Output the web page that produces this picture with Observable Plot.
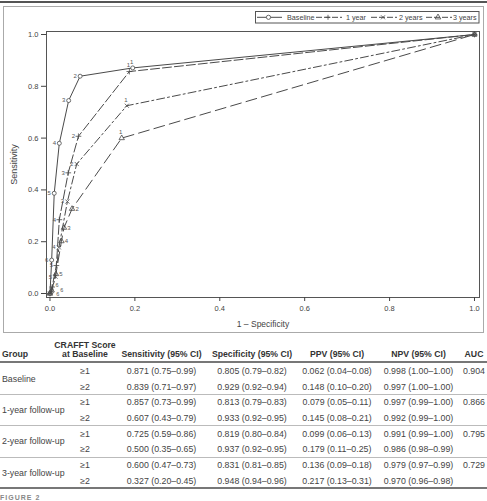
<!DOCTYPE html>
<html><head><meta charset="utf-8">
<script src="https://cdn.jsdelivr.net/npm/d3@7"></script>
<script src="https://cdn.jsdelivr.net/npm/@observablehq/plot@0.6"></script>
<style>
html,body{margin:0;padding:0;background:#fff;overflow:hidden;width:487px;height:501px}
#wrap{position:relative;width:487px;height:501px;font-family:"Liberation Sans",Arial,sans-serif;color:#444}
.t{position:absolute;white-space:nowrap;font-size:8.8px;line-height:10px;height:10px}
.h{font-weight:bold;font-size:8.7px;color:#333}
.abs{position:absolute}
</style></head><body><div id="wrap"></div>
<script>
// ---------- ROC data (1 – specificity, sensitivity), points labelled by CRAFFT cut-off ----------
const seriesNames = ["Baseline", "1 year", "2 years", "3 years"];
const pointLabels = ["", "6", "5", "4", "3", "2", "1", ""];
const baselineFPR = [0, 0.004, 0.010, 0.022, 0.044, 0.071, 0.195, 1];
const baselineTPR = [0, 0.129, 0.387, 0.580, 0.745, 0.839, 0.871, 1];
const year1FPR = [0, 0.005, 0.015, 0.022, 0.043, 0.067, 0.187, 1];
const year1TPR = [0, 0.025, 0.108, 0.285, 0.466, 0.607, 0.857, 1];
const year2FPR = [0, 0.004, 0.013, 0.021, 0.041, 0.063, 0.181, 1];
const year2TPR = [0, 0.010, 0.065, 0.178, 0.355, 0.500, 0.725, 1];
const year3FPR = [0, 0.004, 0.014, 0.027, 0.033, 0.052, 0.169, 1];
const year3TPR = [0, 0.012, 0.075, 0.202, 0.254, 0.327, 0.600, 1];
const axisTicks = [0, 0.2, 0.4, 0.6, 0.8, 1.0];

// ---------- table data ----------
const tableGroups = ["Baseline", "1-year follow-up", "2-year follow-up", "3-year follow-up"];
const cutoffs = ["≥1", "≥2"];
const tableHeaders = ["Sensitivity (95% CI)", "Specificity (95% CI)", "PPV (95% CI)", "NPV (95% CI)", "AUC"];
const sensitivity = ["0.871 (0.75–0.99)","0.839 (0.71–0.97)","0.857 (0.73–0.99)","0.607 (0.43–0.79)","0.725 (0.59–0.86)","0.500 (0.35–0.65)","0.600 (0.47–0.73)","0.327 (0.20–0.45)"];
const specificity = ["0.805 (0.79–0.82)","0.929 (0.92–0.94)","0.813 (0.79–0.83)","0.933 (0.92–0.95)","0.819 (0.80–0.84)","0.937 (0.92–0.95)","0.831 (0.81–0.85)","0.948 (0.94–0.96)"];
const ppv = ["0.062 (0.04–0.08)","0.148 (0.10–0.20)","0.079 (0.05–0.11)","0.145 (0.08–0.21)","0.099 (0.06–0.13)","0.179 (0.11–0.25)","0.136 (0.09–0.18)","0.217 (0.13–0.31)"];
const npv = ["0.998 (1.00–1.00)","0.997 (1.00–1.00)","0.997 (0.99–1.00)","0.992 (0.99–1.00)","0.991 (0.99–1.00)","0.986 (0.98–0.99)","0.979 (0.97–0.99)","0.970 (0.96–0.98)"];
const auc = ["0.904", "0.866", "0.795", "0.729"];

// ---------- build rows ----------
const fprs = [baselineFPR, year1FPR, year2FPR, year3FPR];
const tprs = [baselineTPR, year1TPR, year2TPR, year3TPR];
const rows = [];
seriesNames.forEach((s, si) => fprs[si].forEach((f, i) => rows.push({series: s, si, fpr: f, tpr: tprs[si][i], label: pointLabels[i], idx: i})));

const styles = {
  "Baseline": {dash: null, symbol: "circle", labelDx: -5, fill: "white"},
  "1 year": {dash: "9,3", symbol: "plus", labelDx: -5, fill: "none", lowDx: 5, lowDy: -2},
  "2 years": {dash: "8,3,2,3", symbol: "times", labelDx: -5, fill: "none", lowDx: 10, lowDy: -1},
  "3 years": {dash: "11,5", symbol: "triangle", labelDx: 5, fill: "none", lowDx: 6, lowDy: 4}
};
const ink = "#4a4a4a";

const marks = [Plot.frame({stroke: "#555", strokeWidth: 1})];
for (const s of seriesNames) {
  const d = rows.filter(r => r.series === s);
  const st = styles[s];
  const isLow = r => s !== "Baseline" && r.label === "6";
  marks.push(Plot.line(d, {x: "fpr", y: "tpr", stroke: ink, strokeWidth: 1, strokeDasharray: st.dash}));
  marks.push(Plot.dot(d, {x: "fpr", y: "tpr", symbol: () => st.symbol, r: 2, stroke: ink, strokeWidth: 0.8, fill: st.fill}));
  marks.push(Plot.text(d.filter(r => r.label && r.label !== "1" && !isLow(r)), {x: "fpr", y: "tpr", text: "label", dx: st.labelDx, fontSize: 6, fill: "#555"}));
  if (s !== "Baseline") marks.push(Plot.text(d.filter(isLow), {x: "fpr", y: "tpr", text: "label", dx: st.lowDx, dy: st.lowDy, fontSize: 5.5, fill: "#555"}));
  marks.push(Plot.text(d.filter(r => r.label === "1"), {x: "fpr", y: "tpr", text: "label", dx: -1, dy: -6, fontSize: 6, fill: "#555"}));
}
marks.push(Plot.axisX({ticks: axisTicks, tickFormat: d3.format(".1f"), tickSize: 4, tickPadding: 4, fontSize: 7.5, label: null, color: "#444"}));
marks.push(Plot.axisX({ticks: [], tickSize: 0, fontSize: 8.5, label: "1 – Specificity", labelAnchor: "center", labelArrow: "none", labelOffset: 29, color: "#444"}));
marks.push(Plot.axisY({ticks: axisTicks, tickFormat: d3.format(".1f"), tickSize: 5, tickPadding: 3, fontSize: 7.5, label: null, color: "#444"}));
marks.push(Plot.axisY({ticks: [], tickSize: 0, fontSize: 9, label: "Sensitivity", labelAnchor: "center", labelArrow: "none", labelOffset: 36, color: "#444"}));

const chart = Plot.plot({
  width: 487, height: 335,
  marginLeft: 46, marginRight: 8, marginTop: 31, marginBottom: 38,
  x: {domain: [-0.0082, 1.0118]},
  y: {domain: [-0.0154, 1.0116]},
  style: {fontFamily: "'Liberation Sans', Arial, sans-serif", background: "transparent", overflow: "visible"},
  marks
});

const wrap = document.getElementById("wrap");
// top rule and panel border
const topRule = document.createElement("div");
topRule.className = "abs"; Object.assign(topRule.style, {left: "0px", top: "1px", width: "487px", height: "2px", background: "#555"});
wrap.appendChild(topRule);
const panel = document.createElement("div");
panel.className = "abs"; Object.assign(panel.style, {left: "2.5px", top: "5.5px", width: "479px", height: "325px", border: "1.5px solid #aaa"});
wrap.appendChild(panel);
chart.style.position = "absolute"; chart.style.left = "0px"; chart.style.top = "0px";
wrap.appendChild(chart);

// legend
const legend = d3.select(wrap).append("svg").attr("class", "abs").attr("width", 487).attr("height", 30)
  .style("left", "0px").style("top", "0px").style("font-family", "'Liberation Sans', Arial, sans-serif");
legend.append("rect").attr("x", 255.5).attr("y", 11.5).attr("width", 223.5).attr("height", 11.5).attr("fill", "white").attr("stroke", "#555");
const legendItems = [
  {x0: 257, x1: 282, tx: 287},
  {x0: 316, x1: 342, tx: 346},
  {x0: 371, x1: 397, tx: 399},
  {x0: 426, x1: 452, tx: 453}
];
const symPath = {
  circle: d3.symbol(d3.symbolCircle, 14)(),
  plus: "M-2.5,0H2.5M0,-2.5V2.5",
  times: "M-2,-2L2,2M-2,2L2,-2",
  triangle: d3.symbol(d3.symbolTriangle, 14)()
};
seriesNames.forEach((s, i) => {
  const it = legendItems[i], st = styles[s];
  legend.append("line").attr("x1", it.x0).attr("x2", it.x1).attr("y1", 17.3).attr("y2", 17.3)
    .attr("stroke", ink).attr("stroke-width", 1).attr("stroke-dasharray", st.dash ? "6,2" : null);
  legend.append("path").attr("d", symPath[st.symbol]).attr("transform", `translate(${(it.x0 + it.x1) / 2 - 1},17.3)`)
    .attr("stroke", ink).attr("stroke-width", 0.8).attr("fill", st.fill === "white" ? "white" : "none");
  legend.append("text").attr("x", it.tx).attr("y", 17.3).attr("dy", "0.35em").attr("font-size", 7.2).attr("fill", "#444").text(s);
});

// ---------- table ----------
function addText(txt, x, y, anchor, cls) {
  const el = document.createElement("div");
  el.className = "t" + (cls ? " " + cls : "");
  el.textContent = txt;
  wrap.appendChild(el);
  const w = el.getBoundingClientRect().width;
  const left = anchor === "middle" ? x - w / 2 : anchor === "end" ? x - w : x;
  el.style.left = left + "px";
  el.style.top = (y - 5) + "px";
}
function addRule(y, h, color) {
  const el = document.createElement("div");
  el.className = "abs";
  Object.assign(el.style, {left: "0px", top: y + "px", width: "487px", height: h + "px", background: color});
  wrap.appendChild(el);
}
const colX = [161.5, 252, 337, 418.5, 474];
addText("Group", 2, 354, "start", "h");
addText("CRAFFT Score", 85, 345, "middle", "h");
addText("at Baseline", 85, 354, "middle", "h");
tableHeaders.forEach((h, i) => addText(h, colX[i], 354, "middle", "h"));
addRule(360.5, 2, "#777");
const valueCols = [sensitivity, specificity, ppv, npv];
tableGroups.forEach((g, gi) => {
  const y0 = 371 + gi * 31.3;
  addText(g, 2, y0 + 7.8, "start");
  cutoffs.forEach((c, ci) => {
    const y = y0 + ci * 15.6;
    const k = gi * 2 + ci;
    addText(c, 85, y, "middle");
    valueCols.forEach((col, j) => addText(col[k], colX[j], y, "middle"));
  });
  addText(auc[gi], colX[4], y0, "middle");
  if (gi > 0) addRule(y0 - 8.3, 1.2, "#bbb");
});
addRule(486.5, 2, "#777");
const fig = document.createElement("div");
fig.className = "abs";
Object.assign(fig.style, {left: "0px", top: "494px", fontSize: "7px", lineHeight: "7px", fontWeight: "bold", letterSpacing: "1px", color: "#888"});
fig.textContent = "FIGURE 2";
wrap.appendChild(fig);
</script></body></html>
